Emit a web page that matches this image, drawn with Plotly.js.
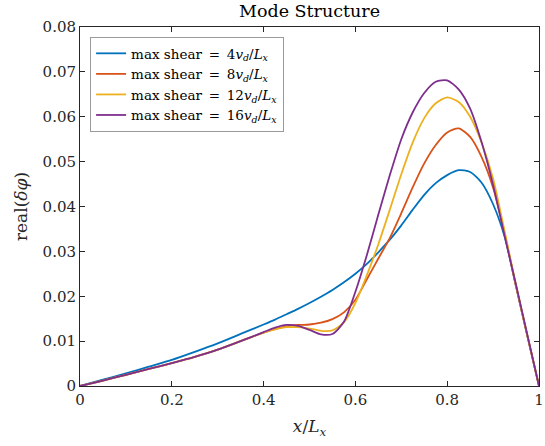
<!DOCTYPE html>
<html>
<head>
<meta charset="utf-8">
<script src="https://cdn.plot.ly/plotly-3.0.1.min.js"></script>
<style>html,body{margin:0;padding:0;background:#fff;}#chart{width:545px;height:446px;}</style>
</head>
<body>
<div id="chart"></div>
<script>
const xGrid   = [0, 0.05, 0.1, 0.15, 0.2, 0.25, 0.3, 0.35, 0.4, 0.425, 0.45, 0.475, 0.5, 0.525, 0.55, 0.575, 0.6, 0.625, 0.65, 0.675, 0.7, 0.725, 0.75, 0.775, 0.8, 0.825, 0.85, 0.875, 0.9, 0.925, 0.95, 0.975, 1];
const yBlue   = [0, 0.0014, 0.0028, 0.0043, 0.0058, 0.0076, 0.0095, 0.0116, 0.0137, 0.0148, 0.0160, 0.0172, 0.0185, 0.0199, 0.0214, 0.0231, 0.0250, 0.0272, 0.0298, 0.0326, 0.0358, 0.0393, 0.0426, 0.0452, 0.0470, 0.0481, 0.0477, 0.0453, 0.0405, 0.0333, 0.0222, 0.0110, 0];
const yOrange = [0, 0.0012, 0.0025, 0.0038, 0.0051, 0.0065, 0.0081, 0.0100, 0.0119, 0.0127, 0.0133, 0.0136, 0.0137, 0.0141, 0.0149, 0.0164, 0.0192, 0.0238, 0.0284, 0.0330, 0.0385, 0.0443, 0.0496, 0.0537, 0.0565, 0.0574, 0.0555, 0.0510, 0.0442, 0.0340, 0.0222, 0.0110, 0];
const yYellow = [0, 0.0012, 0.0025, 0.0038, 0.0051, 0.0065, 0.0081, 0.0100, 0.0119, 0.0126, 0.0131, 0.0131, 0.0128, 0.0123, 0.0124, 0.0142, 0.0185, 0.0247, 0.0316, 0.0393, 0.0472, 0.0543, 0.0597, 0.0630, 0.0643, 0.0633, 0.0600, 0.0542, 0.0462, 0.0345, 0.0224, 0.0111, 0];
const yPurple = [0, 0.0012, 0.0025, 0.0038, 0.0051, 0.0065, 0.0081, 0.0100, 0.0120, 0.0130, 0.0136, 0.0134, 0.0125, 0.0115, 0.0116, 0.0143, 0.0210, 0.0292, 0.0382, 0.0470, 0.0550, 0.0610, 0.0653, 0.0678, 0.0681, 0.0661, 0.0618, 0.0543, 0.0448, 0.0335, 0.0225, 0.0112, 0];

const names = [
  'max shear\u2002=\u20024<i>v</i><sub><i>d</i></sub>/<i>L</i><sub><i>x</i></sub>',
  'max shear\u2002=\u20028<i>v</i><sub><i>d</i></sub>/<i>L</i><sub><i>x</i></sub>',
  'max shear\u2002=\u200212<i>v</i><sub><i>d</i></sub>/<i>L</i><sub><i>x</i></sub>',
  'max shear\u2002=\u200216<i>v</i><sub><i>d</i></sub>/<i>L</i><sub><i>x</i></sub>'
];
const colors = ['#0072BD', '#D95319', '#EDB120', '#7E2F8E'];
const ys = [yBlue, yOrange, yYellow, yPurple];

const xTicks = [0, 0.2, 0.4, 0.6, 0.8, 1];
const yTicks = [0, 0.01, 0.02, 0.03, 0.04, 0.05, 0.06, 0.07, 0.08];

const font = 'DejaVu Serif, Liberation Serif, serif';

const traces = ys.map((y, i) => ({
  x: xGrid, y: y, type: 'scatter', mode: 'lines', name: names[i],
  line: {color: colors[i], width: 1.8, shape: 'spline', smoothing: 0.7}
}));

const axisCommon = {
  showgrid: false, zeroline: false, showline: true, linecolor: '#262626', linewidth: 1,
  mirror: 'ticks', ticks: 'inside', ticklen: 5, tickcolor: '#262626', tickwidth: 1,
  ticklabeloverflow: 'allow',
  tickfont: {family: font, size: 15, color: '#262626'}
};

const layout = {
  width: 545, height: 446,
  margin: {l: 80, r: 6, t: 27, b: 60},
  paper_bgcolor: '#fff', plot_bgcolor: '#fff',
  title: {text: 'Mode Structure', font: {family: font, size: 17.5, color: '#000'}, xref: 'paper', x: 0.5, xanchor: 'center', y: 0.99, yanchor: 'top'},
  xaxis: Object.assign({}, axisCommon, {
    range: [0, 1], tickvals: xTicks, ticktext: xTicks.map(String),
    title: {text: '<i>x</i>/<i>L</i><sub><i>x</i></sub>', font: {family: font, size: 17, color: '#262626'}, standoff: 12}
  }),
  yaxis: Object.assign({}, axisCommon, {
    range: [0, 0.08], tickvals: yTicks, ticktext: yTicks.map(String),
    title: {text: 'real(<i>δφ</i>)', font: {family: font, size: 17, color: '#262626'}, standoff: 10}
  }),
  showlegend: true,
  legend: {
    x: 0.022, y: 0.972, xanchor: 'left', yanchor: 'top',
    bgcolor: '#fff', bordercolor: '#9a9a9a', borderwidth: 1,
    font: {family: font, size: 13.5, color: '#000'},
    itemwidth: 30, tracegroupgap: 0
  }
};

Plotly.newPlot('chart', traces, layout, {staticPlot: true, displayModeBar: false});
</script>
</body>
</html>
